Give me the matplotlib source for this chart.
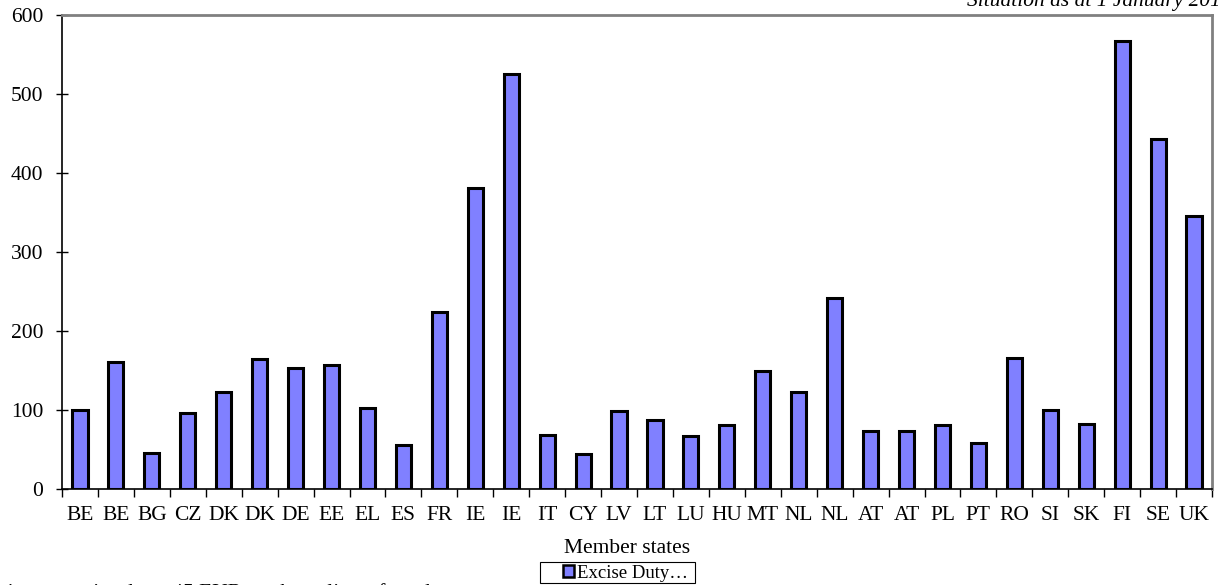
import numpy as np
import matplotlib.pyplot as plt
from matplotlib.patches import Patch, Rectangle

# données
pays = ['BE', 'BE', 'BG', 'CZ', 'DK', 'DK', 'DE', 'EE', 'EL', 'ES', 'FR', 'IE', 'IE',
        'IT', 'CY', 'LV', 'LT', 'LU', 'HU', 'MT', 'NL', 'NL', 'AT', 'AT', 'PL', 'PT',
        'RO', 'SI', 'SK', 'FI', 'SE', 'UK']
droits = [100, 161, 46, 96, 123, 165, 153, 157, 102, 56, 224, 381, 525,
          68, 44, 99, 87, 67, 81, 149, 123, 242, 73, 73, 81, 58,
          166, 100, 82, 567, 443, 346]
yticks = [0, 100, 200, 300, 400, 500, 600]

plt.rcParams['font.family'] = ['Liberation Serif', 'DejaVu Serif']
plt.rcParams['font.size'] = 15.5

W, H = 1218, 585
fig = plt.figure(figsize=(W/100, H/100), dpi=100)
ax = fig.add_axes([62/W, 1-489/H, 1150/W, 474/H])

x = np.arange(len(pays))
ax.bar(x, droits, width=0.42, color='#8080ff', edgecolor='black', linewidth=2.2)

ax.set_xlim(-0.5, len(pays)-0.5)
ax.set_ylim(0, 600)
ax.set_yticks(yticks)
ax.set_xticks(x)
ax.set_xticklabels(pays)
ax.tick_params(axis='x', length=0, pad=12)
ax.tick_params(axis='y', direction='inout', length=9, width=1, pad=9)
# graduations entre les catégories
ax.set_xticks(np.arange(-0.5, len(pays)), minor=True)
ax.tick_params(axis='x', which='minor', direction='out', length=6, width=1)

for s in ['top', 'right']:
    ax.spines[s].set_color('gray')
    ax.spines[s].set_linewidth(2)
for s in ['left', 'bottom']:
    ax.spines[s].set_color('black')
    ax.spines[s].set_linewidth(1.2)

fig.text(627/W, 1-553/H, 'Member states', ha='center', va='baseline')

# cadre de la légende
fig.patches.append(Rectangle((540/W, 1-583/H), 155/W, 21/H, transform=fig.transFigure,
                             facecolor='white', edgecolor='black', linewidth=0.8))
leg = fig.legend(handles=[Patch(facecolor='#8080ff', edgecolor='black', linewidth=1.8,
                                label='Excise Duty…')],
                 loc='center left', bbox_to_anchor=(563/W, 1-573/H), frameon=False,
                 handlelength=0.6, handleheight=0.6, handletextpad=0.15, borderpad=0.0,
                 borderaxespad=0.0, fontsize=13.5)

fig.text(1232/W, 1-6/H, 'Situation as at 1 January 2010', ha='right', va='baseline',
         style='italic')
fig.text(-28/W, 1-598/H, 'Minimum excise duty: 45 EUR per hectolitre of product',
         ha='left', va='baseline')

fig.savefig('out.png', dpi=100)
